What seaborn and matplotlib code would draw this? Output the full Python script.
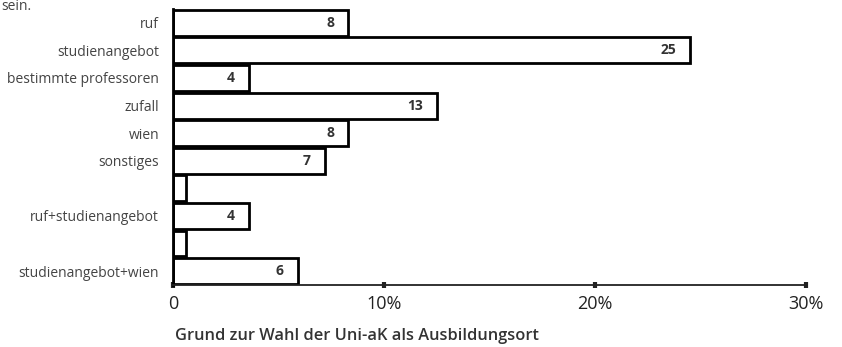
"""Horizontal bar chart: Grund zur Wahl der Uni-aK als Ausbildungsort."""

import matplotlib
matplotlib.use("Agg")
import matplotlib.pyplot as plt
import pandas as pd
import seaborn as sns

# data (percent of respondents)
categories = [
    "ruf",
    "studienangebot",
    "bestimmte professoren",
    "zufall",
    "wien",
    "sonstiges",
    "",
    "ruf+studienangebot",
    " ",
    "studienangebot+wien",
]
shares = [8.3, 24.5, 3.6, 12.5, 8.3, 7.2, 0.6, 3.6, 0.6, 5.9]
bar_labels = ["8", "25", "4", "13", "8", "7", "", "4", "", "6"]
x_ticks = [0, 10, 20, 30]
x_ticklabels = ["0", "10%", "20%", "30%"]

df = pd.DataFrame({"grund": categories, "anteil": shares})

sns.set_theme(style="white")
plt.rcParams["font.family"] = ["Open Sans", "DejaVu Sans"]

fig = plt.figure(figsize=(8.42, 3.47), dpi=100)
ax = fig.add_axes([0.2055, 0.179, 0.752, 0.795])

sns.barplot(
    data=df,
    x="anteil",
    y="grund",
    orient="h",
    color="white",
    edgecolor="black",
    linewidth=2.0,
    width=0.94,
    order=categories,
    ax=ax,
)

# value labels inside the bar ends
for i, (val, lab) in enumerate(zip(shares, bar_labels)):
    if lab:
        ax.annotate(
            lab,
            xy=(val, i),
            xytext=(-10, 0),
            textcoords="offset points",
            ha="right",
            va="center",
            fontsize=10,
            fontweight="bold",
            color="#333333",
        )

ax.set_xlim(0, 30)
ax.set_ylim(len(categories) - 0.5, -0.5)
ax.set_xticks(x_ticks)
ax.set_xticklabels(x_ticklabels, fontsize=13, color="#222222")
ax.set_yticks(range(len(categories)))
ax.set_yticklabels(categories, fontsize=10, color="#444444")
ax.set_ylabel("")
ax.set_xlabel("")

# tick marks: small squares on the x axis, every second row on the y axis
ax.tick_params(axis="x", direction="inout", length=4, width=3, color="#222222", pad=5, bottom=True)
ax.tick_params(axis="y", length=0, pad=10)
ax.set_yticks(range(0, len(categories), 2), minor=True)
ax.tick_params(axis="y", which="minor", direction="out", length=3, width=3, color="black", left=True)

for side in ["top", "right"]:
    ax.spines[side].set_visible(False)
ax.spines["left"].set_linewidth(2.0)
ax.spines["left"].set_color("black")
ax.spines["bottom"].set_linewidth(1.3)
ax.spines["bottom"].set_color("#222222")

fig.text(0.208, 0.008, "Grund zur Wahl der Uni-aK als Ausbildungsort",
         fontsize=11.8, fontweight="semibold", color="#333333", ha="left", va="bottom")
fig.text(0.002, 1.004, "sein.", fontsize=10, color="#444444", ha="left", va="top")

fig.savefig("out.png", dpi=100)
